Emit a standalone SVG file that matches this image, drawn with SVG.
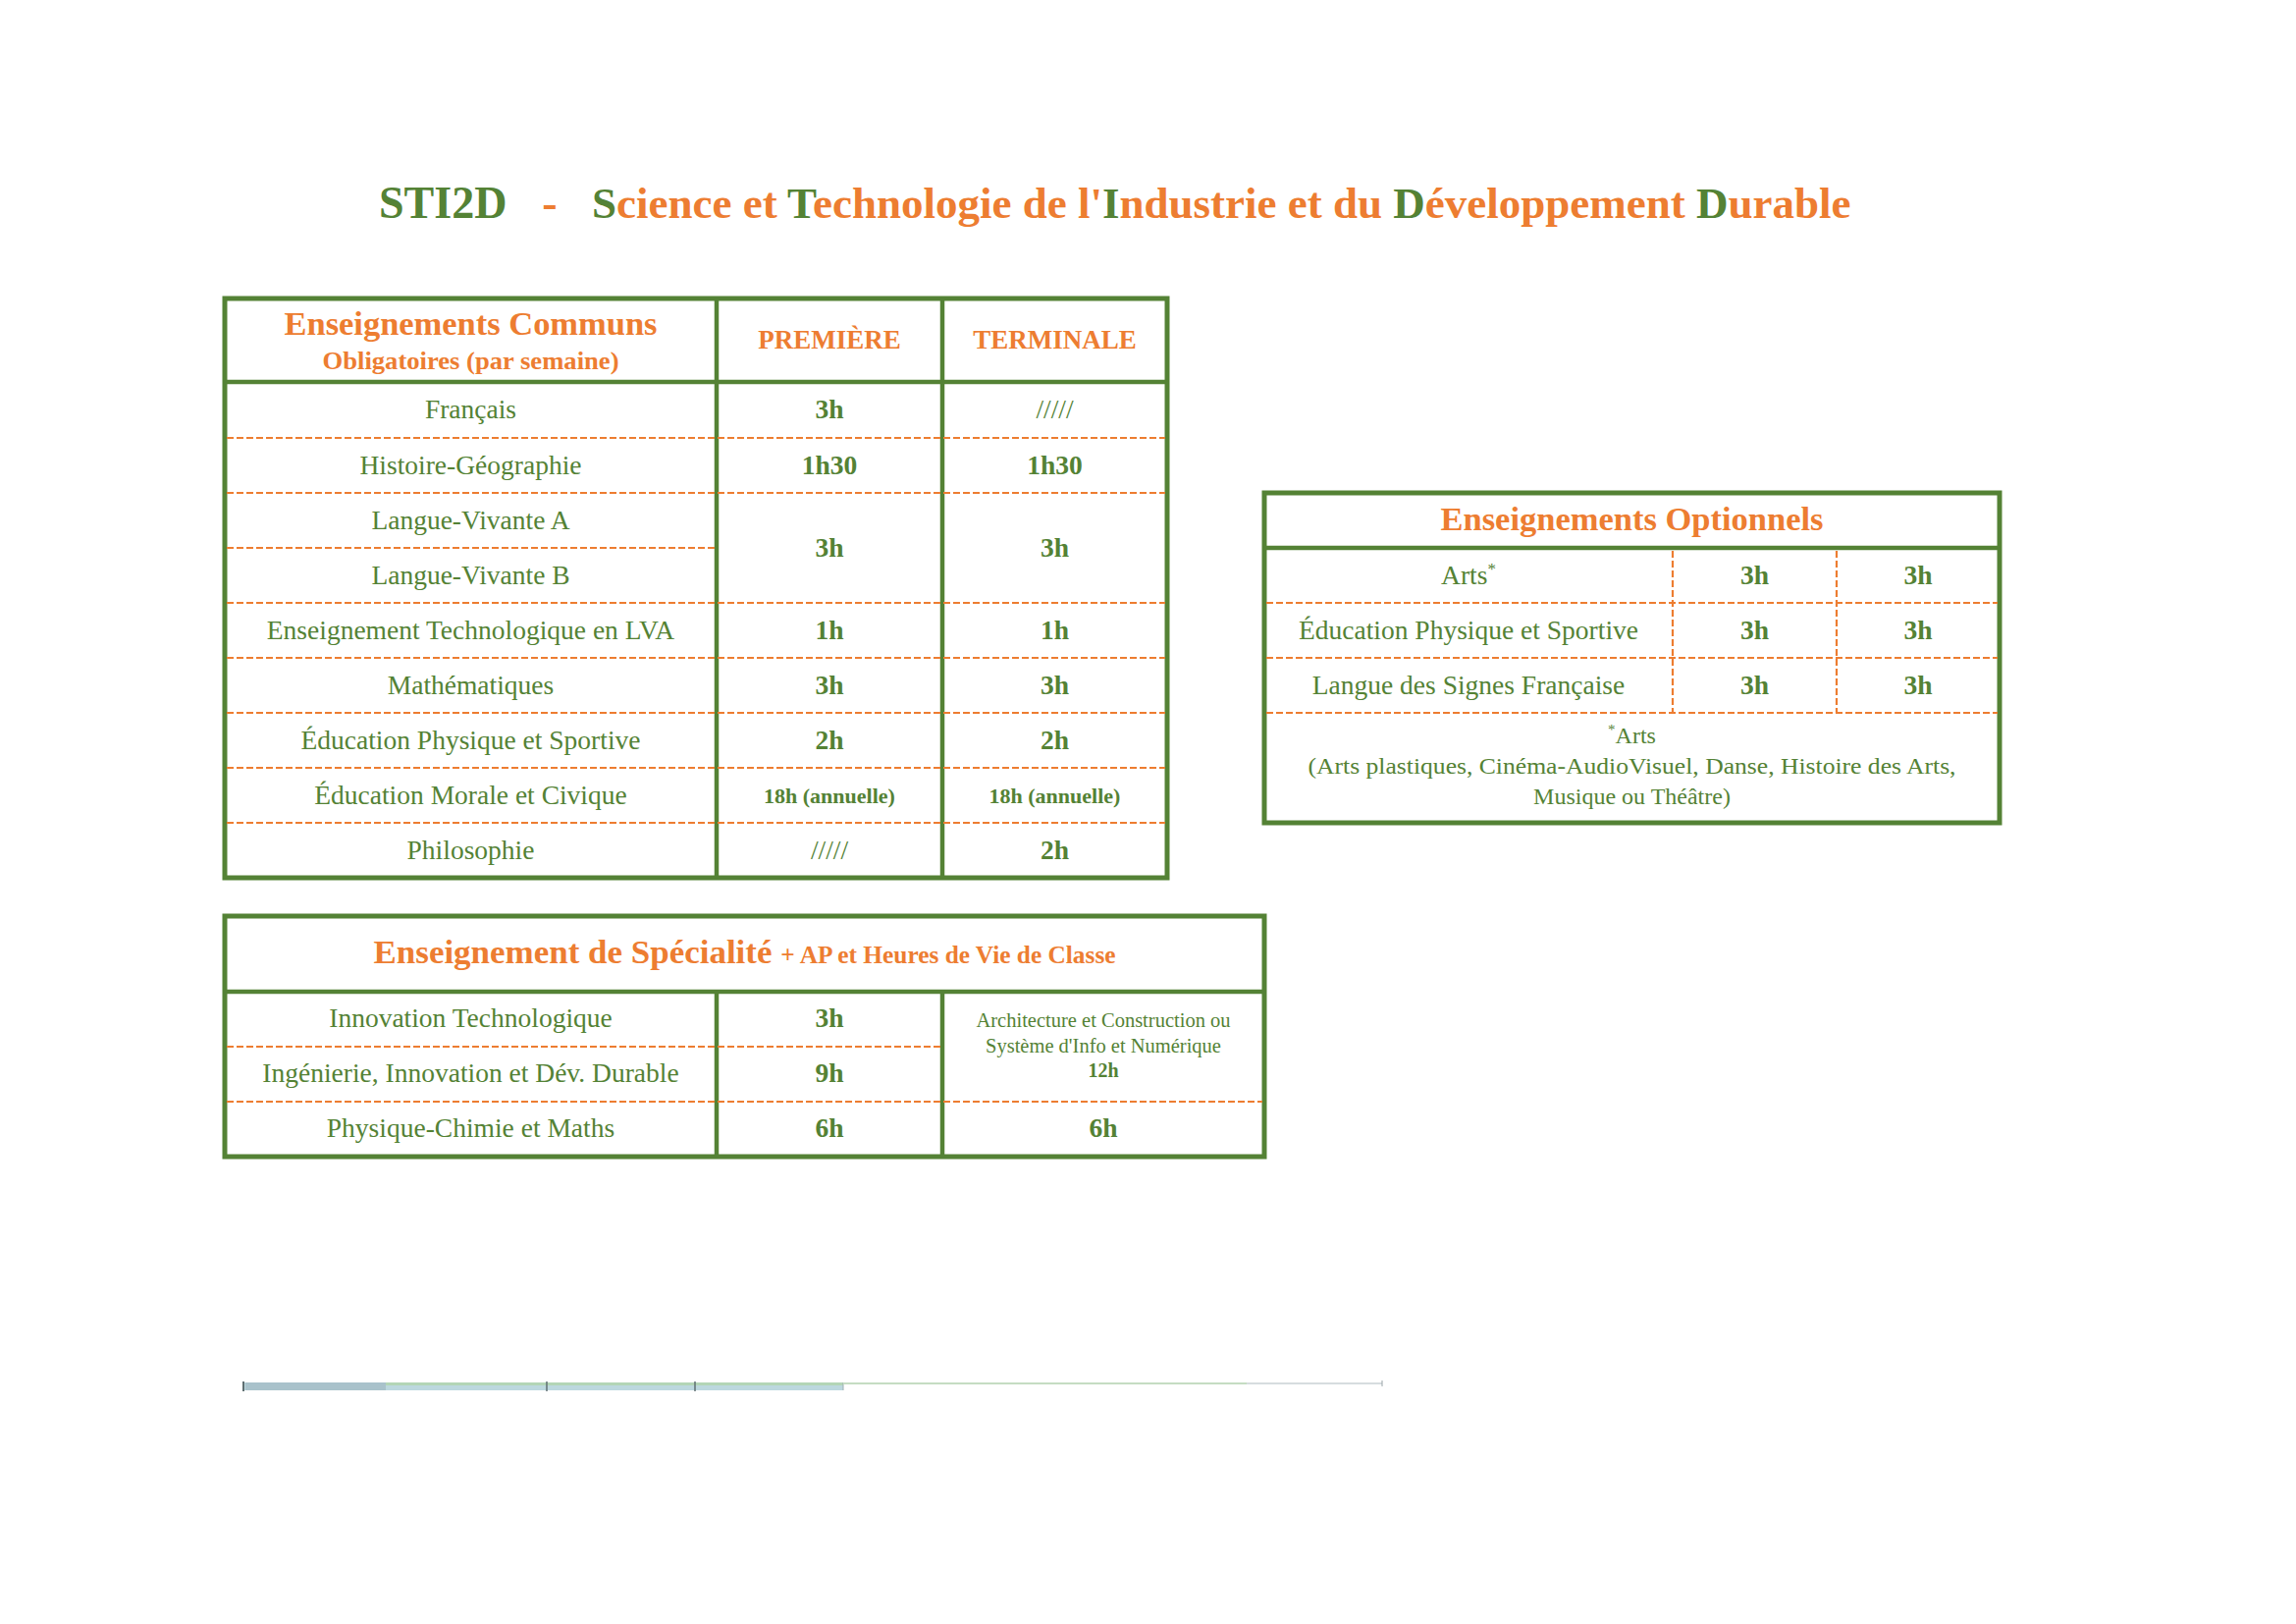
<svg xmlns="http://www.w3.org/2000/svg" width="2339" height="1654" viewBox="0 0 2339 1654">
<style>
text{font-family:"Liberation Serif","Times New Roman",serif;text-anchor:middle}
.g{fill:#548235}
.o{fill:#ED7D31}
.hd{font-size:34.5px;font-weight:bold;fill:#ED7D31}
.col{font-size:27px;font-weight:bold;fill:#ED7D31}
.t{font-size:27.5px;fill:#548235}
.n{font-size:27.5px;font-weight:bold;fill:#548235}
.sm{font-size:22px;font-weight:bold;fill:#548235}
.outer{fill:#ffffff;stroke:#548235;stroke-width:5}
.sol{stroke:#548235;stroke-width:4.5;fill:none}
.dash{stroke:#ED7D31;stroke-width:2.2;stroke-dasharray:7 3;fill:none}
</style>
<rect width="2339" height="1654" fill="#ffffff"/>

<g id="title" font-weight="bold">
<text x="386" y="221.5" class="g" font-size="46" style="text-anchor:start">STI2D</text>
<text x="560" y="221.5" class="o" font-size="46">-</text>
<text x="603" y="221.5" font-size="45" style="text-anchor:start"><tspan class="g">S</tspan><tspan class="o">cience et </tspan><tspan class="g">T</tspan><tspan class="o">echnologie de l'</tspan><tspan class="g">I</tspan><tspan class="o">ndustrie et du </tspan><tspan class="g">D</tspan><tspan class="o">éveloppement </tspan><tspan class="g">D</tspan><tspan class="o">urable</tspan></text>
</g>

<g id="table-communs">
<rect x="229" y="304" width="960" height="590" class="outer"/>
<line class="sol" x1="229" y1="389" x2="1189" y2="389"/>
<line class="sol" x1="730" y1="304" x2="730" y2="894"/>
<line class="sol" x1="960" y1="304" x2="960" y2="894"/>
<line class="dash" x1="231" y1="446" x2="1187" y2="446"/>
<line class="dash" x1="231" y1="502" x2="1187" y2="502"/>
<line class="dash" x1="231" y1="558" x2="728" y2="558"/>
<line class="dash" x1="231" y1="614" x2="1187" y2="614"/>
<line class="dash" x1="231" y1="670" x2="1187" y2="670"/>
<line class="dash" x1="231" y1="726" x2="1187" y2="726"/>
<line class="dash" x1="231" y1="782" x2="1187" y2="782"/>
<line class="dash" x1="231" y1="838" x2="1187" y2="838"/>
<text x="479.5" y="341" class="hd" textLength="380" lengthAdjust="spacingAndGlyphs">Enseignements Communs</text>
<text x="479.5" y="376" class="col" style="font-size:26px" textLength="302" lengthAdjust="spacingAndGlyphs">Obligatoires (par semaine)</text>
<text x="845" y="355" class="col">PREMIÈRE</text>
<text x="1074.5" y="355" class="col">TERMINALE</text>
<text x="479.5" y="426" class="t">Français</text>
<text x="845" y="426" class="n">3h</text>
<text x="1074.5" y="426" class="t">/////</text>
<text x="479.5" y="483" class="t">Histoire-Géographie</text>
<text x="845" y="483" class="n">1h30</text>
<text x="1074.5" y="483" class="n">1h30</text>
<text x="479.5" y="539" class="t">Langue-Vivante A</text>
<text x="479.5" y="595" class="t">Langue-Vivante B</text>
<text x="845" y="567" class="n">3h</text>
<text x="1074.5" y="567" class="n">3h</text>
<text x="479.5" y="651" class="t">Enseignement Technologique en LVA</text>
<text x="845" y="651" class="n">1h</text>
<text x="1074.5" y="651" class="n">1h</text>
<text x="479.5" y="707" class="t">Mathématiques</text>
<text x="845" y="707" class="n">3h</text>
<text x="1074.5" y="707" class="n">3h</text>
<text x="479.5" y="763" class="t">Éducation Physique et Sportive</text>
<text x="845" y="763" class="n">2h</text>
<text x="1074.5" y="763" class="n">2h</text>
<text x="479.5" y="819" class="t">Éducation Morale et Civique</text>
<text x="845" y="818" class="sm">18h (annuelle)</text>
<text x="1074.5" y="818" class="sm">18h (annuelle)</text>
<text x="479.5" y="875" class="t">Philosophie</text>
<text x="845" y="875" class="t">/////</text>
<text x="1074.5" y="875" class="n">2h</text>
</g>

<g id="table-optionnels">
<rect x="1288" y="502" width="749" height="336" class="outer"/>
<line class="sol" x1="1288" y1="558" x2="2037" y2="558"/>
<line class="dash" x1="1290" y1="614" x2="2035" y2="614"/>
<line class="dash" x1="1290" y1="670" x2="2035" y2="670"/>
<line class="dash" x1="1290" y1="726" x2="2035" y2="726"/>
<line class="dash" x1="1704" y1="561" x2="1704" y2="726"/>
<line class="dash" x1="1871" y1="561" x2="1871" y2="726"/>
<text x="1662.5" y="540" class="hd" textLength="390" lengthAdjust="spacingAndGlyphs">Enseignements Optionnels</text>
<text x="1496" y="595" class="t">Arts<tspan font-size="17" dy="-10">*</tspan></text>
<text x="1787.5" y="595" class="n">3h</text>
<text x="1954" y="595" class="n">3h</text>
<text x="1496" y="651" class="t">Éducation Physique et Sportive</text>
<text x="1787.5" y="651" class="n">3h</text>
<text x="1954" y="651" class="n">3h</text>
<text x="1496" y="707" class="t">Langue des Signes Française</text>
<text x="1787.5" y="707" class="n">3h</text>
<text x="1954" y="707" class="n">3h</text>
<text x="1662.5" y="757" class="t" style="font-size:24px"><tspan font-size="15" dy="-9">*</tspan><tspan dy="9">Arts</tspan></text>
<text x="1662.5" y="788" class="t" style="font-size:24px" textLength="660" lengthAdjust="spacingAndGlyphs">(Arts plastiques, Cinéma-AudioVisuel, Danse, Histoire des Arts,</text>
<text x="1662.5" y="819" class="t" style="font-size:24px">Musique ou Théâtre)</text>
</g>

<g id="table-specialite">
<rect x="229" y="933" width="1059" height="245" class="outer"/>
<line class="sol" x1="229" y1="1010" x2="1288" y2="1010"/>
<line class="sol" x1="730" y1="1010" x2="730" y2="1178"/>
<line class="sol" x1="960" y1="1010" x2="960" y2="1178"/>
<line class="dash" x1="231" y1="1066" x2="958" y2="1066"/>
<line class="dash" x1="231" y1="1122" x2="1286" y2="1122"/>
<text x="758.5" y="981" class="hd" textLength="756" lengthAdjust="spacingAndGlyphs">Enseignement de Spécialité <tspan style="font-size:25px">+ AP et Heures de Vie de Classe</tspan></text>
<text x="479.5" y="1046" class="t">Innovation Technologique</text>
<text x="845" y="1046" class="n">3h</text>
<text x="479.5" y="1102" class="t">Ingénierie, Innovation et Dév. Durable</text>
<text x="845" y="1102" class="n">9h</text>
<text x="479.5" y="1158" class="t">Physique-Chimie et Maths</text>
<text x="845" y="1158" class="n">6h</text>
<text x="1124" y="1046" class="t" style="font-size:20.5px">Architecture et Construction ou</text>
<text x="1124" y="1072" class="t" style="font-size:20.5px">Système d'Info et Numérique</text>
<text x="1124" y="1097" class="n" style="font-size:20px">12h</text>
<text x="1124" y="1158" class="n">6h</text>
</g>

<g id="faded-strip">
<rect x="248" y="1408" width="611" height="8" fill="#bcd8de"/>
<rect x="250" y="1408" width="143" height="8" fill="#a9c2cb"/>
<rect x="393" y="1408" width="466" height="3" fill="#b3d5b6"/>
<line x1="248" y1="1407" x2="248" y2="1417" stroke="#5f6f72" stroke-width="2"/>
<line x1="557" y1="1407" x2="557" y2="1417" stroke="#5f6f72" stroke-width="1.5"/>
<line x1="708" y1="1407" x2="708" y2="1417" stroke="#5f6f72" stroke-width="1.5"/>
<line x1="859" y1="1408" x2="859" y2="1416" stroke="#9fb0b3" stroke-width="1"/>
<line x1="859" y1="1409" x2="1270" y2="1409" stroke="#c5dcc3" stroke-width="2"/>
<line x1="1270" y1="1409" x2="1408" y2="1409" stroke="#c9d0d4" stroke-width="1.5"/>
<line x1="1408" y1="1406" x2="1408" y2="1412" stroke="#9aa4a8" stroke-width="1"/>
</g>
</svg>
